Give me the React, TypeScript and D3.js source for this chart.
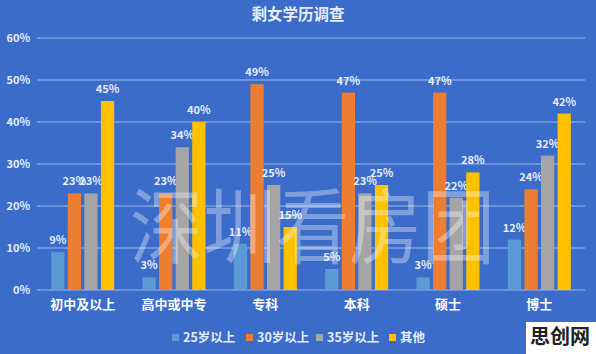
import React, { useEffect, useRef } from 'react';
import * as d3 from 'd3';

const categories = ['初中及以上', '高中或中专', '专科', '本科', '硕士', '博士'];
const seriesNames = ['25岁以上', '30岁以上', '35岁以上', '其他'];
const age25 = [9, 3, 11, 5, 3, 12];
const age30 = [23, 23, 49, 47, 47, 24];
const age35 = [23, 34, 25, 23, 22, 32];
const others = [45, 40, 15, 25, 28, 42];
const yTicks = [0, 10, 20, 30, 40, 50, 60];

const App = () => {
  const svgRef = useRef(null);

  useEffect(() => {
    const width = 596;
    const height = 354;
    const svg = d3.select(svgRef.current);
    svg.selectAll('*').remove();
    svg.attr('width', width).attr('height', height);

    const font = '"Noto Sans CJK SC", "Noto Sans", sans-serif';
    const colors = ['#5b9bd5', '#ed7d31', '#a5a5a5', '#ffc000'];
    const series = [age25, age30, age35, others];

    svg.append('rect').attr('width', width).attr('height', height).attr('fill', '#3b6cc9');

    const margin = { top: 38, right: 11, bottom: 64, left: 37 };
    const innerW = width - margin.left - margin.right;
    const innerH = height - margin.top - margin.bottom;

    const x = d3.scaleBand().domain(categories).range([0, innerW]).paddingInner(0.31).paddingOuter(0.155);
    const xs = d3.scaleBand().domain(seriesNames).range([0, x.bandwidth()]).paddingInner(0.2);
    const y = d3.scaleLinear().domain([0, 60]).range([innerH, 0]);

    const g = svg.append('g').attr('transform', `translate(${margin.left},${margin.top})`);

    // 网格线
    g.selectAll('.grid').data(yTicks).enter().append('line')
      .attr('x1', 0).attr('x2', innerW)
      .attr('y1', d => y(d)).attr('y2', d => y(d))
      .attr('stroke', '#9cb8ec').attr('stroke-width', 1.2);

    g.selectAll('.ytick').data(yTicks).enter().append('text')
      .attr('x', -7).attr('y', d => y(d)).attr('dy', '0.35em')
      .attr('text-anchor', 'end').attr('fill', '#e6edfa')
      .attr('font-family', font).attr('font-weight', 'bold').attr('font-size', 11)
      .text(d => `${d}%`);

    series.forEach((vals, si) => {
      const sg = g.append('g');
      sg.selectAll('rect').data(vals).enter().append('rect')
        .attr('x', (d, i) => x(categories[i]) + xs(seriesNames[si]))
        .attr('width', xs.bandwidth())
        .attr('y', d => y(d))
        .attr('height', d => innerH - y(d))
        .attr('fill', colors[si]);
      sg.selectAll('text').data(vals).enter().append('text')
        .attr('x', (d, i) => x(categories[i]) + xs(seriesNames[si]) + xs.bandwidth() / 2)
        .attr('y', d => y(d) - 8)
        .attr('text-anchor', 'middle').attr('fill', '#e6edfa')
        .attr('font-family', font).attr('font-weight', 'bold').attr('font-size', 11)
        .text(d => `${d}%`);
    });

    g.selectAll('.xlab').data(categories).enter().append('text')
      .attr('x', d => x(d) + x.bandwidth() / 2).attr('y', innerH + 19)
      .attr('text-anchor', 'middle').attr('fill', '#ffffff')
      .attr('font-family', font).attr('font-weight', 'bold').attr('font-size', 13)
      .text(d => d);

    // 标题
    svg.append('text').attr('x', 298).attr('y', 20).attr('text-anchor', 'middle')
      .attr('fill', '#e6edfa').attr('font-family', font).attr('font-weight', 'bold').attr('font-size', 15.5)
      .text('剩女学历调查');

    // 图例
    const legendX = [172, 246, 316, 389];
    seriesNames.forEach((name, i) => {
      const lg = svg.append('g').attr('transform', `translate(${legendX[i]},338)`);
      lg.append('rect').attr('x', 0).attr('y', -4).attr('width', 7).attr('height', 7).attr('fill', colors[i]);
      lg.append('text').attr('x', 11).attr('y', 0).attr('dy', '0.35em')
        .attr('fill', '#e6edfa').attr('font-family', font).attr('font-weight', 'bold').attr('font-size', 12.5)
        .text(name);
    });

    // 水印
    svg.append('text').attr('x', 130).attr('y', 257)
      .attr('textLength', 365).attr('lengthAdjust', 'spacingAndGlyphs')
      .attr('fill', '#ffffff').attr('fill-opacity', 0.35)
      .attr('font-family', font).attr('font-size', 82)
      .text('深圳看房团');

    svg.append('rect').attr('x', 526).attr('y', 322).attr('width', 70).attr('height', 32).attr('fill', '#ffffff');
    svg.append('text').attr('x', 560).attr('y', 344).attr('text-anchor', 'middle')
      .attr('fill', '#222').attr('font-family', font).attr('font-weight', 'bold').attr('font-size', 20)
      .text('思创网');
  }, []);

  return (
    <div style={{ position: 'absolute', left: 0, top: 0 }}>
      <svg ref={svgRef}></svg>
    </div>
  );
};

export default App;
